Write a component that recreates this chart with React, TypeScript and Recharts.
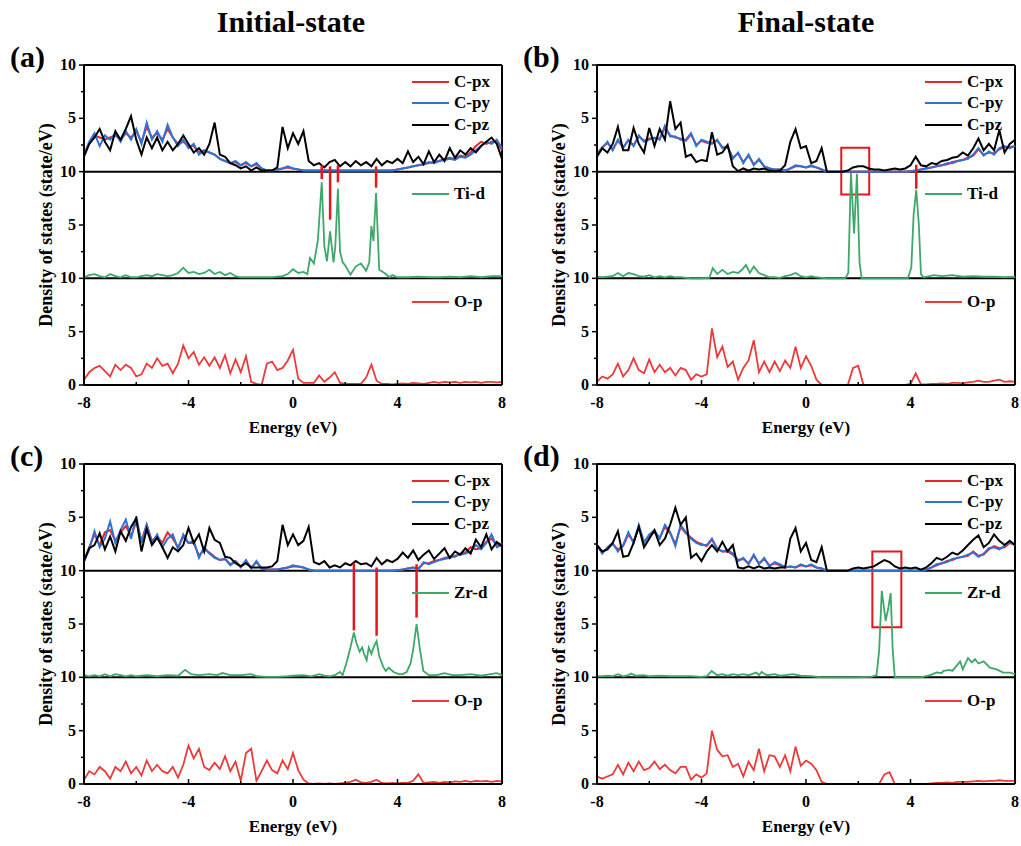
import { LineChart, Line, XAxis, YAxis, ReferenceLine, ReferenceArea } from "recharts";

// energy grid shared by the sampled curves (-8 .. 8 eV, 0.2 eV step)
const ENERGY = Array.from({ length: 81 }, (_, i) => +(-8 + i * 0.2).toFixed(1));
const X_TICKS = [-8, -6, -4, -2, 0, 2, 4, 6, 8];
const Y_TICKS = [0, 2.5, 5, 7.5, 10, 12.5, 15, 17.5, 20, 22.5, 25, 27.5, 30];

type Pt = [number, number];

// ---- (a) initial state, Ti ----
const A_CPX = [
  1.6, 2.6, 3.4, 3.2, 3.0, 3.2, 3.4, 3.0, 3.6, 3.2,
  3.8, 2.8, 4.2, 3.2, 3.6, 3.0, 4.0, 3.2, 2.6, 2.8,
  2.4, 2.4, 1.8, 2.0, 1.8, 1.6, 1.2, 1.0, 0.8, 0.9,
  0.6, 0.8, 0.5, 0.7, 0.3, 0.1, 0.1, 0.2, 0.3, 0.4,
  0.3, 0.2, 0.1, 0.1, 0.1, 0.1, 0.1, 0.1, 0.1, 0.1,
  0.1, 0.1, 0.1, 0.1, 0.1, 0.1, 0.1, 0.1, 0.1, 0.1,
  0.2, 0.3, 0.4, 0.5, 0.6, 0.7, 0.8, 0.9, 1.0, 1.2,
  1.3, 1.2, 1.5, 1.4, 1.8, 2.4, 2.8, 2.6, 2.8, 2.8,
  2.0,
];
const A_CPY = [
  1.6, 2.8, 3.6, 2.4, 3.4, 3.0, 3.6, 2.8, 3.8, 3.0,
  4.0, 2.6, 4.6, 3.0, 3.8, 2.8, 4.4, 3.2, 2.4, 3.0,
  2.2, 2.6, 1.6, 2.0, 1.8, 1.6, 1.2, 1.0, 0.8, 1.0,
  0.6, 0.9, 0.5, 0.8, 0.3, 0.1, 0.1, 0.2, 0.3, 0.5,
  0.3, 0.2, 0.1, 0.1, 0.1, 0.1, 0.1, 0.1, 0.1, 0.1,
  0.1, 0.1, 0.1, 0.1, 0.1, 0.1, 0.1, 0.1, 0.1, 0.1,
  0.2, 0.3, 0.4, 0.5, 0.6, 0.7, 0.9, 0.8, 1.0, 1.1,
  1.2, 1.1, 1.4, 1.3, 1.6, 2.0, 2.4, 2.8, 2.6, 3.0,
  2.2,
];
const A_CPZ = [
  1.4, 2.6, 3.2, 4.0, 2.8, 2.0, 3.8, 3.0, 4.0, 5.2,
  3.0, 1.6, 3.2, 2.2, 3.2, 2.0, 2.8, 2.0, 2.6, 3.4,
  2.6, 1.8, 2.2, 1.6, 2.6, 4.6, 1.6, 1.4, 0.8, 0.6,
  0.3, 0.5, 0.1, 0.4, 0.1, 0.1, 0.1, 0.4, 4.2, 2.2,
  3.6, 2.6, 3.8, 1.0, 0.6, 0.8, 0.4, 0.9, 1.1, 0.5,
  0.9, 0.5, 1.0, 0.6, 0.9, 0.5, 1.2, 0.6, 1.0, 0.8,
  1.2, 0.8, 1.9, 0.9, 1.4, 0.7, 1.9, 0.9, 1.6, 1.0,
  2.2, 1.3, 2.0, 1.6, 2.2, 1.8, 2.4, 2.8, 3.2, 2.6,
  1.2,
];
const A_TID: Pt[] = [
  [-8, 0.1], [-7.8, 0.3], [-7.6, 0.4], [-7.4, 0.2], [-7.2, 0.1], [-7, 0.4], [-6.8, 0.2], [-6.6, 0.1],
  [-6.4, 0.3], [-6.2, 0.1], [-6, 0.1], [-5.8, 0.2], [-5.6, 0.3], [-5.4, 0.2], [-5.2, 0.4], [-5, 0.3],
  [-4.8, 0.2], [-4.6, 0.3], [-4.4, 0.5], [-4.2, 1.0], [-4, 0.5], [-3.8, 0.6], [-3.6, 0.4], [-3.4, 0.5],
  [-3.2, 0.8], [-3, 0.4], [-2.8, 0.6], [-2.6, 0.3], [-2.4, 0.5], [-2.2, 0.2], [-2, 0.1], [-1.6, 0.1],
  [-1.2, 0.1], [-0.8, 0.1], [-0.4, 0.2], [-0.2, 0.4], [0, 0.85], [0.2, 0.5], [0.4, 0.6], [0.55, 0.4],
  [0.65, 1.9], [0.8, 1.4], [0.95, 3.5], [1.1, 9.0], [1.2, 3.0], [1.3, 1.6], [1.42, 4.4], [1.55, 1.5],
  [1.62, 3.0], [1.72, 8.4], [1.8, 2.5], [1.9, 1.5], [2.0, 1.2], [2.2, 0.35], [2.4, 1.1], [2.6, 1.4],
  [2.8, 0.7], [2.92, 1.5], [3.0, 4.9], [3.08, 3.5], [3.18, 8.0], [3.3, 0.8], [3.5, 0.5], [3.7, 0.1],
  [3.8, 0.3], [4, 0.1], [4.4, 0.1], [4.8, 0.15], [5.2, 0.1], [5.6, 0.1], [6, 0.15], [6.4, 0.1],
  [6.8, 0.2], [7.2, 0.1], [7.6, 0.2], [8, 0.2],
];
const A_OP = [
  0.5, 1.2, 1.6, 1.8, 1.3, 0.8, 1.9, 1.4, 1.9, 1.6,
  0.8, 1.0, 2.0, 1.6, 2.5, 1.8, 2.0, 1.1, 2.0, 3.7,
  2.5, 3.1, 1.9, 2.6, 1.8, 2.6, 1.6, 2.8, 1.1, 2.4,
  1.2, 2.7, 0.3, 0.1, 0.0, 2.0, 2.2, 1.4, 1.6, 2.3,
  3.3, 0.6, 0.2, 0.2, 0.2, 0.9, 0.3, 0.7, 1.2, 0.2,
  0.1, 0.1, 0.1, 0.1, 0.7, 1.9, 0.4, 0.1, 0.1, 0.05,
  0.1, 0.15, 0.1, 0.2, 0.15, 0.1, 0.2, 0.3, 0.2, 0.3,
  0.25, 0.3, 0.2, 0.3, 0.25, 0.3, 0.2, 0.3, 0.3, 0.25,
  0.3,
];
const A_LINKS: [number, number, number][] = [[1.1, 20.6, 19.3], [1.42, 20.5, 15.5], [1.72, 20.6, 19.0], [3.18, 20.5, 18.5]];

// ---- (b) final state, Ti ----
const B_CPX = [
  1.6, 2.3, 2.7, 2.1, 2.9, 2.3, 2.9, 2.5, 3.3, 2.9,
  3.1, 3.1, 3.1, 4.1, 3.4, 3.2, 3.1, 2.9, 3.5, 2.5,
  2.9, 2.7, 2.7, 2.9, 2.3, 2.3, 1.3, 1.7, 0.9, 1.5,
  0.7, 1.1, 0.5, 0.3, 0.2, 0.2, 0.1, 0.3, 0.5, 0.5,
  0.4, 0.5, 0.4, 0.2, 0, 0, 0, 0, 0, 0,
  0, 0, 0, 0, 0, 0, 0, 0, 0, 0,
  0.05, 0.1, 0.2, 0.3, 0.4, 0.5, 0.6, 0.7, 0.9, 1.0,
  1.1, 1.3, 1.5, 2.1, 1.6, 1.8, 1.7, 2.1, 2.3, 2.3,
  2.4,
];
const B_CPY = [
  1.6, 2.2, 2.8, 2.0, 3.0, 2.2, 3.0, 2.4, 3.4, 2.8,
  3.0, 3.2, 3.0, 4.3, 3.3, 3.3, 3.0, 3.0, 3.6, 2.4,
  3.0, 2.8, 2.6, 3.0, 2.2, 2.4, 1.2, 1.8, 0.8, 1.6,
  0.6, 1.2, 0.5, 0.3, 0.2, 0.2, 0.1, 0.3, 0.6, 0.5,
  0.4, 0.6, 0.4, 0.2, 0, 0, 0, 0, 0, 0,
  0, 0, 0, 0, 0, 0, 0, 0, 0, 0,
  0.05, 0.1, 0.2, 0.3, 0.4, 0.5, 0.6, 0.8, 0.8, 1.0,
  1.1, 1.2, 1.6, 2.2, 1.5, 1.9, 1.6, 2.2, 2.4, 2.2,
  2.4,
];
const B_CPZ = [
  1.4, 2.2, 1.8, 2.6, 4.2, 2.0, 2.0, 4.1, 2.6, 1.8,
  4.1, 2.4, 4.0, 3.0, 6.6, 4.0, 4.6, 1.4, 1.6, 0.9,
  1.1, 1.0, 3.7, 1.6, 1.8, 2.5, 0.5, 0.05, 0.3, 0.1,
  0.3, 0.2, 0.3, 0.1, 0.05, 0.1, 0.6, 2.8, 4.0, 2.2,
  2.4, 0.8, 1.0, 2.2, 0, 0, 0, 0, 0.1, 0.4,
  0.5, 0.5, 0.3, 0.2, 0.2, 0.1, 0.2, 0.3, 0.2, 0.3,
  0.6, 1.4, 0.6, 0.5, 0.8, 0.7, 1.0, 1.1, 1.3, 1.4,
  1.8, 1.5, 2.2, 3.1, 2.0, 2.6, 2.0, 3.9, 1.8, 2.6,
  3.0,
];
const B_TID: Pt[] = [
  [-8, 0.15], [-7.8, 0.1], [-7.6, 0.15], [-7.4, 0.2], [-7.2, 0.5], [-7, 0.2], [-6.8, 0.5], [-6.6, 0.4],
  [-6.4, 0.2], [-6.2, 0.15], [-6, 0.3], [-5.8, 0.1], [-5.6, 0.2], [-5.4, 0.1], [-5.2, 0.2], [-5, 0.1],
  [-4.8, 0.1], [-4.6, 0.05], [-4.4, 0], [-4, 0], [-3.7, 0.05], [-3.57, 0.95], [-3.4, 0.4], [-3.2, 0.8],
  [-3, 0.4], [-2.8, 0.6], [-2.6, 0.5], [-2.45, 0.8], [-2.3, 1.25], [-2.15, 0.5], [-2, 1.1], [-1.8, 0.5],
  [-1.6, 0.3], [-1.4, 0.1], [-1.2, 0.1], [-1, 0.05], [-0.8, 0.2], [-0.6, 0.3], [-0.4, 0.5], [-0.2, 0.2],
  [0, 0.1], [0.2, 0.2], [0.4, 0.1], [0.6, 0.05], [0.8, 0], [1.5, 0], [1.62, 0.5], [1.72, 9.9],
  [1.84, 4.2], [1.95, 9.8], [2.05, 1.5], [2.13, 0], [3.9, 0], [4.03, 1.0], [4.12, 6.0], [4.22, 8.3],
  [4.32, 5.0], [4.4, 0.4], [4.5, 0.1], [4.9, 0.3], [5.2, 0.2], [5.6, 0.3], [6, 0.15], [6.4, 0.2],
  [6.8, 0.15], [7.2, 0.15], [7.6, 0.1], [8, 0.15],
];
const B_OP = [
  0.3, 0.8, 0.6, 1.0, 2.0, 0.8, 1.4, 2.5, 1.4, 1.1,
  2.4, 1.2, 1.9, 1.2, 1.6, 0.9, 1.6, 1.4, 0.5, 1.0,
  0.8, 1.0, 5.3, 2.6, 3.6, 1.7, 2.2, 0.5, 1.6, 2.3,
  4.2, 1.2, 2.2, 1.2, 2.2, 1.3, 2.3, 1.6, 3.6, 1.6,
  2.7, 1.8, 0.5, 0, 0, 0, 0, 0, 0, 1.6,
  1.8, 0, 0, 0, 0, 0, 0, 0, 0, 0,
  0.1, 1.1, 0.05, 0.05, 0.1, 0.1, 0.15, 0.1, 0.2, 0.2,
  0.15, 0.25, 0.3, 0.4, 0.3, 0.3, 0.4, 0.5, 0.3, 0.35,
  0.3,
];
const B_LINKS: [number, number, number][] = [[4.22, 20.65, 18.4]];
const B_BOX = [1.35, 2.42, 17.85, 22.24];

// ---- (c) initial state, Zr ----
const C_CPX = [
  0.9, 2.2, 3.4, 2.4, 3.6, 3.8, 2.8, 3.6, 4.2, 3.2,
  4.6, 2.8, 4.3, 2.8, 3.2, 2.6, 3.6, 3.0, 2.2, 3.2,
  2.6, 2.6, 1.4, 2.0, 1.7, 1.3, 1.0, 1.1, 0.6, 0.9,
  0.4, 0.9, 0.3, 0.8, 0.2, 0.1, 0.1, 0.1, 0.2, 0.3,
  0.4, 0.4, 0.3, 0.1, 0, 0, 0, 0, 0, 0,
  0, 0, 0, 0, 0, 0, 0, 0, 0, 0,
  0.05, 0.1, 0.2, 0.3, 0.2, 0.7, 0.7, 0.9, 1.0, 1.2,
  1.3, 1.3, 1.6, 1.7, 2.2, 2.0, 2.1, 2.7, 3.0, 2.4,
  2.5,
];
const C_CPY = [
  0.9, 2.0, 3.7, 2.2, 3.0, 4.6, 2.6, 3.8, 4.8, 3.0,
  5.1, 2.6, 4.3, 2.6, 3.4, 2.2, 3.0, 3.4, 2.0, 3.4,
  2.6, 2.8, 1.2, 2.2, 1.6, 1.2, 1.0, 1.1, 0.5, 0.9,
  0.3, 1.0, 0.2, 0.9, 0.2, 0.1, 0.1, 0.1, 0.2, 0.3,
  0.5, 0.4, 0.3, 0.1, 0, 0, 0, 0, 0, 0,
  0, 0, 0, 0, 0, 0, 0, 0, 0, 0,
  0.05, 0.1, 0.2, 0.3, 0.1, 0.8, 0.6, 0.8, 1.0, 1.1,
  1.2, 1.4, 1.5, 1.6, 1.8, 2.4, 2.0, 2.6, 3.4, 2.2,
  2.4,
];
const C_CPZ = [
  0.9, 2.1, 2.4, 3.5, 2.0, 3.2, 1.8, 3.7, 2.8, 4.1,
  4.9, 1.8, 3.9, 2.4, 3.1, 2.2, 1.2, 2.2, 1.8, 2.4,
  4.0, 2.6, 3.4, 1.8, 4.0, 2.9, 2.6, 1.3, 1.2, 0.7,
  0.4, 0.7, 0.3, 0.3, 0.3, 0.3, 0.4, 0.9, 4.3, 2.4,
  3.4, 2.4, 2.8, 4.1, 0.8, 0.6, 0.9, 0.3, 0.5, 0.3,
  0.7, 0.5, 0.9, 0.6, 0.7, 0.4, 1.2, 0.6, 1.0, 0.8,
  1.1, 1.7, 1.2, 1.9, 1.0, 1.5, 1.9, 1.1, 1.6, 2.1,
  1.2, 1.8, 1.5, 2.1, 1.6, 2.9, 2.2, 3.4, 2.0, 2.7,
  2.3,
];
const C_ZRD: Pt[] = [
  [-8, 0.2], [-7.8, 0.1], [-7.6, 0.2], [-7.4, 0.1], [-7.2, 0.3], [-7, 0.1], [-6.8, 0.3], [-6.6, 0.2],
  [-6.4, 0.1], [-6.2, 0.2], [-6, 0.1], [-5.6, 0.2], [-5.2, 0.1], [-4.8, 0.2], [-4.4, 0.15], [-4.13, 0.7],
  [-3.9, 0.3], [-3.6, 0.2], [-3.2, 0.3], [-2.9, 0.2], [-2.7, 0.4], [-2.4, 0.2], [-2, 0.2], [-1.6, 0.3],
  [-1.4, 0.1], [-1, 0.05], [-0.6, 0.05], [-0.2, 0.1], [0, 0.15], [0.4, 0.2], [0.7, 0.1], [1, 0.3],
  [1.2, 0.15], [1.4, 0.1], [1.6, 0.2], [1.8, 0.5], [1.9, 0.2], [2.05, 1.4], [2.2, 2.8], [2.33, 4.2],
  [2.43, 3.2], [2.55, 2.4], [2.65, 2.8], [2.72, 2.2], [2.82, 1.6], [2.9, 2.8], [3.0, 2.2], [3.1, 2.9],
  [3.2, 3.4], [3.3, 2.0], [3.45, 1.0], [3.55, 0.6], [3.67, 0.9], [3.85, 0.5], [4.05, 0.3], [4.2, 0.3],
  [4.35, 0.5], [4.5, 1.3], [4.6, 2.6], [4.73, 5.0], [4.86, 2.6], [4.99, 0.6], [5.2, 0.2], [5.5, 0.2],
  [5.8, 0.4], [6.1, 0.2], [6.4, 0.2], [6.8, 0.3], [7.2, 0.15], [7.56, 0.3], [7.8, 0.4], [8, 0.2],
];
const C_OP = [
  0.4, 1.2, 0.9, 1.6, 1.2, 0.5, 1.6, 1.2, 2.1, 1.0,
  1.6, 0.8, 2.2, 1.2, 1.8, 1.2, 1.0, 1.6, 0.6, 1.8,
  3.6, 2.4, 3.3, 1.6, 1.3, 2.0, 1.4, 2.6, 1.2, 2.1,
  0.3, 2.9, 3.3, 0.3, 1.2, 2.2, 1.3, 1.0, 2.2, 1.4,
  2.9, 1.3, 0.4, 0.05, 0, 0.05, 0, 0.05, 0, 0.05,
  0.1, 0.2, 0.4, 0.15, 0.1, 0.2, 0.4, 0.1, 0.05, 0.1,
  0.05, 0.1, 0.1, 0.3, 0.9, 0.1, 0.15, 0.2, 0.1, 0.2,
  0.15, 0.25, 0.2, 0.3, 0.2, 0.3, 0.25, 0.3, 0.2, 0.3,
  0.25,
];
const C_LINKS: [number, number, number][] = [[2.33, 20.7, 14.4], [3.2, 20.3, 13.9], [4.73, 20.6, 15.6]];

// ---- (d) final state, Zr ----
const D_CPX = [
  2.4, 1.7, 2.1, 2.5, 2.0, 2.3, 3.4, 2.7, 4.1, 2.7,
  3.3, 3.6, 3.1, 4.1, 3.5, 2.5, 4.1, 3.5, 3.1, 2.7,
  2.5, 2.3, 2.9, 2.1, 1.8, 1.8, 1.5, 1.0, 1.1, 0.7,
  1.4, 0.7, 1.1, 0.5, 0.7, 0.5, 0.3, 0.4, 0.3, 0.5,
  0.4, 0.5, 0.3, 0.2, 0, 0, 0, 0, 0, 0,
  0, 0, 0, 0, 0, 0, 0, 0, 0, 0,
  0, 0, 0, 0.1, 0.3, 0.5, 0.7, 0.9, 1.0, 1.2,
  1.3, 1.4, 1.8, 1.4, 1.5, 2.0, 2.3, 2.1, 2.2, 2.6,
  2.4,
];
const D_CPY = [
  2.4, 1.6, 2.2, 2.6, 1.8, 2.4, 3.6, 2.6, 4.3, 2.6,
  3.4, 3.8, 3.0, 4.3, 3.6, 2.3, 4.3, 3.6, 3.0, 2.6,
  2.4, 2.4, 3.0, 2.0, 1.8, 1.9, 1.6, 0.9, 1.2, 0.6,
  1.5, 0.6, 1.2, 0.4, 0.8, 0.6, 0.3, 0.4, 0.3, 0.6,
  0.4, 0.6, 0.3, 0.2, 0, 0, 0, 0, 0, 0,
  0, 0, 0, 0, 0, 0, 0, 0, 0, 0,
  0, 0, 0, 0.1, 0.3, 0.6, 0.7, 0.8, 1.1, 1.2,
  1.3, 1.5, 1.7, 1.3, 1.6, 2.1, 2.2, 2.0, 2.3, 2.7,
  2.4,
];
const D_CPZ = [
  2.4, 1.8, 2.0, 2.6, 3.7, 1.3, 1.4, 2.6, 4.1, 2.2,
  3.0, 3.8, 2.4, 3.0, 4.3, 5.9, 4.3, 5.0, 1.2, 1.6,
  0.9, 1.8, 2.4, 1.8, 2.7, 1.8, 2.4, 0.3, 0.2, 0.4,
  0.2, 0.4, 0.2, 0.3, 0.2, 0.3, 0.3, 3.0, 4.0, 1.8,
  2.6, 1.0, 0.8, 2.2, 0, 0, 0, 0, 0, 0.2,
  0.3, 0.2, 0.3, 0.4, 0.7, 1.0, 0.8, 0.4, 0.2, 0.3,
  0.2, 0.3, 0.1, 0.3, 0.7, 1.2, 1.0, 1.3, 1.7, 1.5,
  1.9, 2.4, 2.9, 3.3, 2.2, 2.6, 3.4, 2.8, 2.4, 2.8,
  2.4,
];
const D_ZRD: Pt[] = [
  [-8, 0.1], [-7.8, 0.1], [-7.6, 0.15], [-7.4, 0.1], [-7.2, 0.3], [-7, 0.1], [-6.8, 0.2], [-6.7, 0.35],
  [-6.5, 0.15], [-6.2, 0.2], [-6, 0.1], [-5.6, 0.15], [-5.2, 0.1], [-4.8, 0.1], [-4.4, 0.1], [-4, 0.05],
  [-3.8, 0.1], [-3.61, 0.6], [-3.4, 0.2], [-3.2, 0.3], [-3, 0.15], [-2.8, 0.3], [-2.6, 0.2], [-2.4, 0.3],
  [-2.2, 0.2], [-1.9, 0.45], [-1.8, 0.2], [-1.7, 0.5], [-1.5, 0.2], [-1.2, 0.3], [-1, 0.15], [-0.8, 0.2],
  [-0.5, 0.3], [-0.2, 0.15], [0.2, 0.1], [0.6, 0], [1.9, 0], [2.5, 0.05], [2.7, 0.2], [2.8, 2.5],
  [2.9, 8.1], [3.05, 5.3], [3.15, 6.5], [3.24, 7.9], [3.32, 2.5], [3.4, 0], [4.4, 0], [4.75, 0.2],
  [5, 0.45], [5.2, 0.4], [5.26, 0.6], [5.5, 0.7], [5.6, 0.6], [5.77, 1.1], [5.9, 1.5], [6, 0.75],
  [6.2, 1.8], [6.35, 1.4], [6.47, 1.7], [6.6, 1.3], [6.8, 1.5], [7.04, 0.9], [7.3, 0.75], [7.55, 0.45],
  [7.8, 0.45], [8, 0.3],
];
const D_OP = [
  0.7, 0.5, 0.7, 0.9, 1.8, 0.9, 2.0, 1.2, 2.1, 1.3,
  1.5, 2.1, 1.4, 1.8, 1.3, 1.0, 1.6, 1.6, 0.4, 0.9,
  0.6, 1.0, 5.0, 3.2, 2.6, 2.7, 1.6, 1.9, 0.7, 2.1,
  1.3, 3.3, 1.2, 2.7, 2.6, 1.6, 2.7, 1.2, 3.5, 1.7,
  2.2, 1.9, 1.3, 0.2, 0, 0, 0, 0, 0, 0,
  0, 0, 0, 0, 0, 0.9, 1.1, 0, 0, 0,
  0, 0, 0, 0, 0.05, 0.1, 0.1, 0.15, 0.1, 0.2,
  0.2, 0.2, 0.25, 0.3, 0.25, 0.3, 0.3, 0.35, 0.3, 0.3,
  0.3,
];
const D_LINKS: [number, number, number][] = [];
const D_BOX = [2.54, 3.65, 14.7, 21.8];

const SERIF = "'Liberation Serif', 'Times New Roman', Times, serif";
const RED = "#e8262a";
const BLUE = "#2f72d6";
const GREEN = "#3ea86a";
const OP_RED = "#ec3a3a";
const MARK = "#e5161c";

const onGrid = (vals: number[], shift: number) => vals.map((v, i) => ({ e: ENERGY[i], v: v + shift }));
const fromPairs = (pts: Pt[], shift: number) => pts.map(([e, v]) => ({ e, v: v + shift }));

function XTick({ x, y, payload }: any) {
  const major = payload.value % 4 === 0;
  return (
    <g>
      <line x1={x} x2={x} y1={y} y2={y - (major ? 5 : 3)} stroke="#000" strokeWidth={1.5} />
      {major && (
        <text x={x} y={y + 23} textAnchor="middle" fill="#000"
          style={{ fontFamily: SERIF, fontWeight: 700, fontSize: 16 }}>
          {payload.value}
        </text>
      )}
    </g>
  );
}

function YTick({ x, y, payload }: any) {
  const v = payload.value;
  const major = v % 5 === 0;
  const label = v === 0 ? "0" : v % 10 === 0 ? "10" : "5";
  return (
    <g>
      <line x1={x} x2={x - (major ? 5 : 3)} y1={y} y2={y} stroke="#000" strokeWidth={1.5} />
      {major && (
        <text x={x - 8} y={y + 5} textAnchor="end" fill="#000"
          style={{ fontFamily: SERIF, fontWeight: 700, fontSize: 16 }}>
          {label}
        </text>
      )}
    </g>
  );
}

function Key({ x, y, color, name }: { x: number; y: number; color: string; name: string }) {
  return (
    <div style={{
      position: "absolute", left: x, top: y - 11, height: 22, display: "flex", alignItems: "center",
      gap: 5, fontFamily: SERIF, fontWeight: 700, fontSize: 17, color: "#000", whiteSpace: "nowrap",
    }}>
      <span style={{ display: "inline-block", width: 37, height: 2, background: color }} />
      {name}
    </div>
  );
}

interface PanelProps {
  id: string;
  left: number;
  top: number;
  cpx: number[];
  cpy: number[];
  cpz: number[];
  metal: Pt[];
  metalName: string;
  op: number[];
  links: [number, number, number][];
  box?: number[];
}

function Panel({ id, left, top, cpx, cpy, cpz, metal, metalName, op, links, box }: PanelProps) {
  const plotLeft = 84;
  const plotTop = 25;
  return (
    <div style={{ position: "absolute", left, top, width: 506, height: 400 }}>
      <LineChart width={506} height={400} margin={{ top: 25, right: 4, bottom: 5, left: 34 }}>
        <XAxis dataKey="e" type="number" domain={[-8, 8]} ticks={X_TICKS} interval={0}
          height={50} tickSize={0} tickMargin={0} tickLine={false}
          axisLine={{ stroke: "#000", strokeWidth: 2 }}
          tick={(p: any) => <XTick {...p} />}
          label={{ value: "Energy (eV)", position: "insideBottom", offset: 2, fill: "#000",
            fontSize: 17, fontWeight: 700, fontFamily: SERIF }} />
        <YAxis type="number" domain={[0, 30]} ticks={Y_TICKS} interval={0} width={50}
          allowDataOverflow tickSize={0} tickMargin={0} tickLine={false}
          axisLine={{ stroke: "#000", strokeWidth: 2 }}
          tick={(p: any) => <YTick {...p} />} />
        <ReferenceLine y={30} stroke="#000" strokeWidth={2} />
        <ReferenceLine x={8} stroke="#000" strokeWidth={2} />
        <ReferenceLine y={20} stroke="#000" strokeWidth={2} />
        <ReferenceLine y={10} stroke="#000" strokeWidth={2} />
        <Line data={onGrid(op, 0)} dataKey="v" stroke={OP_RED} strokeWidth={1.8} dot={false}
          isAnimationActive={false} type="linear" />
        <Line data={fromPairs(metal, 10)} dataKey="v" stroke={GREEN} strokeWidth={1.8} dot={false}
          isAnimationActive={false} type="linear" />
        <Line data={onGrid(cpx, 20)} dataKey="v" stroke={RED} strokeWidth={2} dot={false}
          isAnimationActive={false} type="linear" />
        <Line data={onGrid(cpy, 20)} dataKey="v" stroke={BLUE} strokeWidth={2} dot={false}
          isAnimationActive={false} type="linear" />
        <Line data={onGrid(cpz, 20)} dataKey="v" stroke="#000" strokeWidth={2} dot={false}
          isAnimationActive={false} type="linear" />
        {links.map(([e, y1, y2]) => (
          <ReferenceLine key={e} segment={[{ x: e, y: y1 }, { x: e, y: y2 }]} stroke={MARK} strokeWidth={2.5} />
        ))}
        {box && (
          <ReferenceArea x1={box[0]} x2={box[1]} y1={box[2]} y2={box[3]} fill="none" fillOpacity={0}
            stroke={MARK} strokeWidth={2} ifOverflow="visible" />
        )}
      </LineChart>

      <div style={{
        position: "absolute", left: 10, top: 1, lineHeight: "32px", fontFamily: SERIF,
        fontWeight: 700, fontSize: 30, color: "#000",
      }}>{id}</div>
      <div style={{
        position: "absolute", left: 46, top: plotTop + 160, transform: "translate(-50%, -50%) rotate(-90deg)",
        fontFamily: SERIF, fontWeight: 700, fontSize: 18, color: "#000", whiteSpace: "nowrap",
      }}>Density of states (state/eV)</div>

      <Key x={plotLeft + 328} y={plotTop + 17} color={RED} name="C-px" />
      <Key x={plotLeft + 328} y={plotTop + 38} color={BLUE} name="C-py" />
      <Key x={plotLeft + 328} y={plotTop + 60} color="#000" name="C-pz" />
      <Key x={plotLeft + 328} y={plotTop + 129} color={GREEN} name={metalName} />
      <Key x={plotLeft + 328} y={plotTop + 237} color={OP_RED} name="O-p" />
    </div>
  );
}

export default function App() {
  return (
    <div style={{ position: "absolute", left: 0, top: 0, width: 1021, height: 846, background: "#fff", overflow: "hidden" }}>
      <div style={{ position: "absolute", left: 291, top: 22, transform: "translate(-50%, -50%)", fontFamily: SERIF,
        fontWeight: 700, fontSize: 30, whiteSpace: "nowrap" }}>Initial-state</div>
      <div style={{ position: "absolute", left: 806, top: 22, transform: "translate(-50%, -50%)", fontFamily: SERIF,
        fontWeight: 700, fontSize: 30, whiteSpace: "nowrap" }}>Final-state</div>
      <Panel id="(a)" left={0} top={40} cpx={A_CPX} cpy={A_CPY} cpz={A_CPZ} metal={A_TID} metalName="Ti-d"
        op={A_OP} links={A_LINKS} />
      <Panel id="(b)" left={513} top={40} cpx={B_CPX} cpy={B_CPY} cpz={B_CPZ} metal={B_TID} metalName="Ti-d"
        op={B_OP} links={B_LINKS} box={B_BOX} />
      <Panel id="(c)" left={0} top={439} cpx={C_CPX} cpy={C_CPY} cpz={C_CPZ} metal={C_ZRD} metalName="Zr-d"
        op={C_OP} links={C_LINKS} />
      <Panel id="(d)" left={513} top={439} cpx={D_CPX} cpy={D_CPY} cpz={D_CPZ} metal={D_ZRD} metalName="Zr-d"
        op={D_OP} links={D_LINKS} box={D_BOX} />
    </div>
  );
}
